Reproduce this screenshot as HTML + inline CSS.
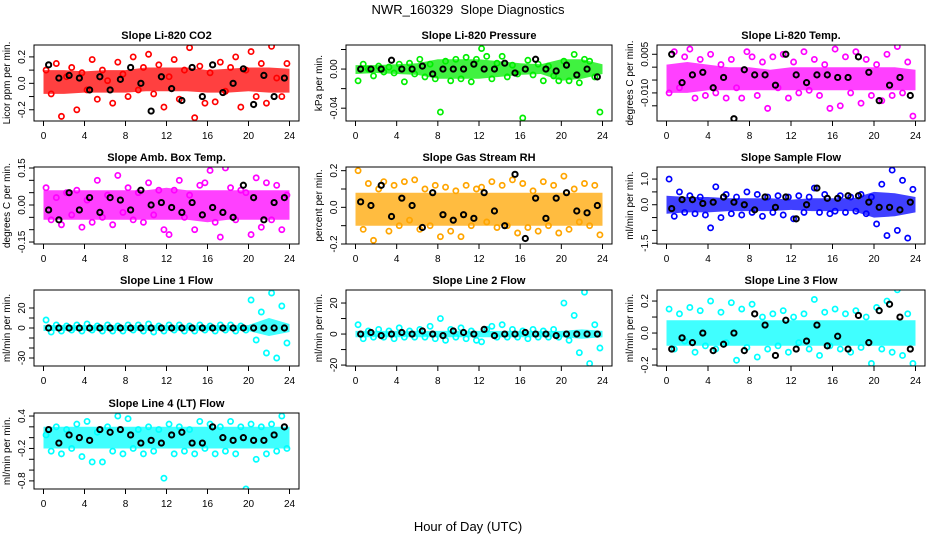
<!DOCTYPE html>
<html><head><meta charset="utf-8"><style>
html,body{margin:0;padding:0;background:#fff;}
svg{display:block;font-family:"Liberation Sans",sans-serif;}
</style></head><body>
<svg id="chart" width="936" height="540" viewBox="0 0 936 540">
<rect width="936" height="540" fill="#fff"/>
<text x="468" y="14" text-anchor="middle" font-size="13">NWR_160329&#160; Slope Diagnostics</text>
<text x="468" y="531" text-anchor="middle" font-size="13">Hour of Day (UTC)</text>
</svg>
<script>
// ---- data ----
const co2Vals=[0.1,-0.08,0.15,-0.25,0.05,0.12,-0.2,0.08,-0.05,0.18,-0.12,0.1,0.02,-0.15,0.16,0.07,-0.1,0.2,-0.05,0.12,0.22,-0.08,0.14,-0.18,0.05,0.18,-0.12,0.1,0.27,-0.26,0.13,-0.15,0.08,-0.14,0.16,-0.06,0.12,0.2,-0.18,0.1,0.24,-0.1,0.15,-0.15,0.28,0.04,-0.1,0.15];
const co2Ref=[0.14,0.04,0.06,0.04,-0.05,0.05,-0.05,0.03,0.12,0.0,-0.21,0.05,-0.04,-0.13,0.12,-0.1,0.14,-0.07,0.0,0.11,-0.16,0.06,-0.1,0.04];
const co2Lo=[-0.08,-0.08,-0.07,-0.07,-0.07,-0.06,-0.06,-0.06,-0.07,-0.07,-0.06,-0.07,-0.07];
const co2Hi=[0.1,0.1,0.09,0.1,0.1,0.12,0.12,0.12,0.1,0.11,0.12,0.12,0.11];

const presVals=[-0.012,0.005,0.0,-0.007,0.003,-0.003,0.002,-0.004,0.005,-0.013,0.006,-0.005,0.01,-0.008,0.005,-0.01,-0.044,0.008,-0.012,0.01,-0.01,0.012,-0.013,0.01,0.021,0.013,-0.01,0.006,0.013,-0.008,0.004,-0.005,-0.05,0.009,-0.006,0.005,-0.012,0.003,-0.007,-0.012,0.008,-0.012,0.015,-0.014,0.01,0.008,-0.008,-0.044];
const presRef=[0.0,0.0,0.0,0.009,0.0,0.0,0.003,-0.005,0.0,0.0,0.0,0.005,0.0,0.0,0.006,-0.004,0.0,0.01,0.0,-0.002,0.004,-0.006,0.0,-0.008];
const presLo=[-0.005,-0.004,-0.005,-0.006,-0.01,-0.01,-0.01,-0.008,-0.006,-0.005,-0.012,-0.01,-0.005];
const presHi=[0.004,0.004,0.005,0.006,0.01,0.01,0.01,0.008,0.006,0.005,0.01,0.01,0.005];

const tempVals=[-0.01,0.006,-0.008,0.004,0.007,-0.012,0.003,-0.011,0.005,-0.01,0.001,-0.012,0.003,-0.008,-0.012,0.006,0.004,-0.011,0.002,-0.016,0.004,-0.008,0.005,-0.012,0.002,-0.01,0.006,-0.009,0.003,-0.011,0.001,-0.016,0.007,-0.015,0.004,-0.01,0.006,-0.014,0.003,-0.011,0.001,-0.013,0.005,-0.011,0.008,-0.01,0.002,-0.019];
const tempRef=[0.005,-0.006,-0.003,-0.002,-0.008,-0.004,-0.02,-0.001,-0.003,-0.003,-0.007,0.005,-0.003,-0.006,-0.003,-0.003,-0.004,-0.004,0.004,-0.002,-0.013,-0.007,-0.004,-0.011];
const tempLo=[-0.01,-0.01,-0.009,-0.009,-0.009,-0.009,-0.009,-0.009,-0.009,-0.009,-0.009,-0.009,-0.009];
const tempHi=[0.001,0.002,0.001,0.0,0.0,-0.001,0.0,0.0,0.0,0.0,0.0,0.0,-0.001];

const ambVals=[0.07,-0.06,0.03,-0.08,0.05,-0.04,0.06,-0.09,0.02,-0.07,0.1,-0.05,0.04,-0.08,0.12,-0.03,0.07,-0.06,0.05,-0.07,0.09,-0.04,0.06,-0.1,-0.12,0.06,0.1,-0.05,0.04,-0.1,0.08,0.09,0.14,-0.07,-0.13,0.15,0.07,-0.06,0.06,0.05,-0.12,0.11,-0.09,0.09,-0.06,0.08,-0.1,0.04];
const ambRef=[-0.02,-0.06,0.05,-0.02,0.03,-0.03,0.03,0.02,-0.02,0.06,0.0,0.01,-0.01,-0.03,0.01,-0.04,-0.01,-0.03,-0.05,0.08,0.03,-0.06,0.01,0.03];
const ambLo=[-0.06,-0.06,-0.06,-0.06,-0.06,-0.06,-0.06,-0.06,-0.07,-0.06,-0.06,-0.06,-0.06];
const ambHi=[0.06,0.06,0.06,0.06,0.06,0.06,0.07,0.06,0.06,0.06,0.06,0.06,0.06];

const rhVals=[0.2,-0.12,0.13,-0.18,0.1,0.14,-0.13,0.12,-0.1,0.14,-0.07,0.15,-0.12,0.1,-0.1,0.12,-0.16,0.11,-0.13,0.09,-0.16,0.12,-0.1,0.1,0.11,-0.08,0.14,-0.11,0.12,-0.1,0.15,-0.14,0.13,-0.11,0.09,-0.13,0.14,-0.1,0.12,-0.14,0.17,-0.12,0.1,-0.08,0.13,-0.1,0.12,-0.15];
const rhRef=[0.03,0.01,0.12,-0.05,0.05,0.01,-0.11,0.08,-0.04,-0.07,-0.04,-0.06,0.08,-0.02,-0.1,0.18,-0.17,0.05,-0.06,0.05,0.08,-0.02,-0.03,0.01];
const rhLo=[-0.1,-0.1,-0.1,-0.1,-0.1,-0.1,-0.1,-0.1,-0.1,-0.1,-0.1,-0.1,-0.1];
const rhHi=[0.08,0.08,0.08,0.08,0.08,0.08,0.08,0.08,0.08,0.08,0.08,0.08,0.08];

const sfVals=[1.0,-0.45,0.5,-0.3,0.35,-0.35,0.3,-0.4,-0.9,0.7,-0.5,0.4,-0.35,0.3,-0.4,0.5,-0.3,0.4,-0.45,0.3,-0.3,0.35,-0.4,0.3,-0.55,0.35,-0.3,0.3,0.65,-0.3,0.4,-0.35,-0.25,0.35,-0.3,0.3,-0.25,0.4,-0.35,0.3,-0.75,0.8,-1.2,1.35,-1.0,0.95,-1.3,0.6];
const sfRef=[-0.15,0.2,0.2,0.05,0.1,0.3,0.1,0.0,-0.2,0.3,-0.1,0.3,-0.55,0.0,0.65,0.25,0.25,0.35,0.35,0.1,-0.1,-0.1,-0.2,0.1];
const sfLo=[-0.35,-0.3,-0.3,-0.25,-0.25,-0.25,-0.2,-0.25,-0.25,-0.25,-0.5,-0.45,-0.3];
const sfHi=[0.35,0.3,0.3,0.25,0.25,0.25,0.2,0.25,0.25,0.25,0.5,0.45,0.3];

const l1Vals=[8,-4,3,-3,2,-2,3,-3,4,-2,2,-3,3,-3,2,-3,3,-2,3,-3,4,-4,2,-3,3,-2,3,-3,2,-3,3,-2,2,-3,3,-2,3,-3,2,-2,28,-12,16,-25,35,-30,22,-15];
const l1Ref=[0,0,0,0,0,0,0,0,0,0,0,0,0,0,0,0,0,0,0,0,0,0,0,0];
const l1Lo=[-3,-3,-3,-3,-3,-3,-3,-3,-3,-3,-3,-8,-4];
const l1Hi=[3,3,3,3,3,3,3,3,3,3,3,10,4];

const l2Vals=[6,-3,2,-2,3,-2,2,-3,4,-2,2,-2,3,-2,5,-3,10,-4,3,-2,4,-3,2,-4,-5,3,5,-2,6,-2,3,-2,2,-3,3,-2,2,-2,3,-2,20,-4,12,-12,27,-19,6,-9];
const l2Ref=[0,1,-1,0,1,0,2,0,-1,2,1,0,3,-1,0,0,1,0,0,-1,0,0,0,0];
const l2Lo=[-2,-2,-2,-2,-2,-2,-2,-2,-2,-2,-2,-3,-2];
const l2Hi=[2,2,2,2,2,2,2,2,2,2,2,3,2];

const l3Vals=[0.15,-0.1,0.12,-0.05,0.16,-0.12,0.14,-0.08,0.2,-0.1,0.13,-0.06,0.19,-0.17,0.15,-0.09,0.18,-0.15,0.1,-0.1,0.12,-0.08,0.14,-0.12,0.1,-0.06,0.12,-0.1,0.21,-0.14,0.13,-0.08,0.15,-0.1,0.12,-0.12,0.14,-0.09,0.1,-0.19,0.16,-0.1,0.2,-0.12,0.27,-0.14,0.12,-0.19];
const l3Ref=[-0.1,-0.03,-0.06,0.0,-0.11,-0.07,0.0,-0.11,0.12,0.05,-0.14,0.08,-0.1,-0.05,0.05,-0.08,-0.02,-0.1,0.11,-0.06,0.14,0.18,0.1,-0.1];
const l3Lo=[-0.08,-0.08,-0.08,-0.08,-0.08,-0.08,-0.08,-0.08,-0.08,-0.08,-0.08,-0.08,-0.08];
const l3Hi=[0.08,0.08,0.08,0.08,0.08,0.08,0.08,0.08,0.08,0.08,0.08,0.08,0.08];

const l4Vals=[0.05,-0.25,0.2,-0.3,0.15,-0.2,0.25,-0.35,0.3,-0.45,0.1,-0.45,0.2,-0.25,0.4,-0.3,0.35,-0.2,0.15,-0.3,0.2,-0.25,0.15,-0.75,0.25,-0.3,0.2,-0.25,0.15,-0.3,0.3,-0.2,0.25,-0.3,0.2,-0.25,0.3,-0.3,0.2,-0.95,0.25,-0.4,0.2,-0.3,0.25,-0.25,0.4,-0.2];
const l4Ref=[0.15,-0.1,0.05,0.0,-0.05,0.15,0.1,0.15,0.05,-0.1,-0.05,-0.1,0.05,0.1,-0.1,-0.1,0.2,0.0,-0.05,0.0,-0.05,-0.05,0.05,0.2];
const l4Lo=[-0.2,-0.2,-0.2,-0.2,-0.2,-0.2,-0.2,-0.2,-0.2,-0.2,-0.2,-0.2,-0.2];
const l4Hi=[0.2,0.2,0.2,0.2,0.2,0.2,0.2,0.2,0.2,0.2,0.2,0.2,0.2];

const xTicks=[0,4,8,12,16,20,24];
const xTickLabels=["0","4","8","12","16","20","24"];

const co2YTicks=[-0.2,-0.1,0,0.1,0.2]; const co2YLabels=["-0.2","","0.0","","0.2"];
const presYTicks=[-0.04,-0.02,0,0.02]; const presYLabels=["-0.04","","0.00",""];
const tempYTicks=[0.005,0,-0.005,-0.01,-0.015]; const tempYLabels=["0.005","","","-0.010",""];
const ambYTicks=[0.15,0.1,0.05,0,-0.05,-0.1,-0.15]; const ambYLabels=["0.15","","","0.00","","","-0.15"];
const rhYTicks=[0.2,0.1,0,-0.1,-0.2]; const rhYLabels=["0.2","","0.0","","-0.2"];
const sfYTicks=[1,0.5,0,-0.5,-1,-1.5]; const sfYLabels=["1.0","","0.0","","","-1.5"];
const l1YTicks=[20,10,0,-10,-20,-30]; const l1YLabels=["20","","0","","","-30"];
const l2YTicks=[20,10,0,-10,-20]; const l2YLabels=["20","","0","","-20"];
const l3YTicks=[0.2,0.1,0,-0.1,-0.2]; const l3YLabels=["0.2","","0.0","","-0.2"];
const l4YTicks=[0.4,0.2,0,-0.2,-0.4,-0.6,-0.8]; const l4YLabels=["0.4","","","-0.2","","","-0.8"];

// ---- layout / style ----
const cols=[[34,299],[346,612],[657,925]];
const rows=[[45,121],[167,244],[290,366],[413,489]];
const panels=[
 {id:"co2",title:"Slope Li-820 CO2",ylab:"Licor ppm per min.",c:0,r:0,col:"#ff0000",vals:co2Vals,ref:co2Ref,lo:co2Lo,hi:co2Hi,yt:co2YTicks,yl:co2YLabels,ymin:-0.285,ymax:0.29},
 {id:"pressure",title:"Slope Li-820 Pressure",ylab:"kPa per min.",c:1,r:0,col:"#00ee00",vals:presVals,ref:presRef,lo:presLo,hi:presHi,yt:presYTicks,yl:presYLabels,ymin:-0.0531,ymax:0.0246},
 {id:"li820-temp",title:"Slope Li-820 Temp.",ylab:"degrees C per min.",c:2,r:0,col:"#ff00ff",vals:tempVals,ref:tempRef,lo:tempLo,hi:tempHi,yt:tempYTicks,yl:tempYLabels,ymin:-0.0209,ymax:0.0086},
 {id:"amb-box-temp",title:"Slope Amb. Box Temp.",ylab:"degrees C per min.",c:0,r:1,col:"#ff00ff",vals:ambVals,ref:ambRef,lo:ambLo,hi:ambHi,yt:ambYTicks,yl:ambYLabels,ymin:-0.158,ymax:0.154},
 {id:"gas-stream-rh",title:"Slope Gas Stream RH",ylab:"percent per min.",c:1,r:1,col:"#ffa500",vals:rhVals,ref:rhRef,lo:rhLo,hi:rhHi,yt:rhYTicks,yl:rhYLabels,ymin:-0.2,ymax:0.22},
 {id:"sample-flow",title:"Slope Sample Flow",ylab:"ml/min per min.",c:2,r:1,col:"#0000ff",vals:sfVals,ref:sfRef,lo:sfLo,hi:sfHi,yt:sfYTicks,yl:sfYLabels,ymin:-1.53,ymax:1.47},
 {id:"line1-flow",title:"Slope Line 1 Flow",ylab:"ml/min per min.",c:0,r:2,col:"#00ffff",vals:l1Vals,ref:l1Ref,lo:l1Lo,hi:l1Hi,yt:l1YTicks,yl:l1YLabels,ymin:-38,ymax:38},
 {id:"line2-flow",title:"Slope Line 2 Flow",ylab:"ml/min per min.",c:1,r:2,col:"#00ffff",vals:l2Vals,ref:l2Ref,lo:l2Lo,hi:l2Hi,yt:l2YTicks,yl:l2YLabels,ymin:-20.6,ymax:28.4},
 {id:"line3-flow",title:"Slope Line 3 Flow",ylab:"ml/min per min.",c:2,r:2,col:"#00ffff",vals:l3Vals,ref:l3Ref,lo:l3Lo,hi:l3Hi,yt:l3YTicks,yl:l3YLabels,ymin:-0.206,ymax:0.269},
 {id:"line4-flow",title:"Slope Line 4 (LT) Flow",ylab:"ml/min per min.",c:0,r:3,col:"#00ffff",vals:l4Vals,ref:l4Ref,lo:l4Lo,hi:l4Hi,yt:l4YTicks,yl:l4YLabels,ymin:-0.95,ymax:0.456}
];
const NS="http://www.w3.org/2000/svg";
const svg=document.getElementById('chart');
function mk(tag,attrs,parent){const e=document.createElementNS(NS,tag);for(const k in attrs)e.setAttribute(k,attrs[k]);(parent||svg).appendChild(e);return e;}

panels.forEach(p=>{
  const [L,R]=cols[p.c],[T,B]=rows[p.r];
  const g=mk('g',{});
  
  
  const xs=h=>L+9.5+(h/24)*(R-L-19);
  const ys=v=>B-(v-p.ymin)/(p.ymax-p.ymin)*(B-T);
  const cp=mk('clipPath',{id:'clip-'+p.id},g);
  mk('rect',{x:L,y:T,width:R-L,height:B-T},cp);
  const plot=mk('g',{'clip-path':'url(#clip-'+p.id+')'},g);
  let d='';
  p.hi.forEach((v,i)=>{d+=(i?'L':'M')+xs(i*2).toFixed(1)+','+ys(v).toFixed(1);});
  for(let i=p.lo.length-1;i>=0;i--)d+='L'+xs(i*2).toFixed(1)+','+ys(p.lo[i]).toFixed(1);
  const band=mk('path',{d:d+'Z',fill:p.col,opacity:0.75},plot);
  
  
  p.vals.forEach((v,i)=>{
    const c=mk('circle',{cx:xs(i*0.5+0.25),cy:ys(v),r:2.6,fill:'none',stroke:p.col,'stroke-width':1.7},plot);
    
    
  });
  p.ref.forEach((v,i)=>{
    const c=mk('circle',{cx:xs(i+0.5),cy:ys(v),r:2.6,fill:'none',stroke:'#000','stroke-width':2},plot);
    
    
  });
  const box=mk('rect',{x:L,y:T,width:R-L,height:B-T,fill:'none',stroke:'#000','stroke-width':1},g);
  
  
  const t=mk('text',{x:(L+R)/2,y:T-6,'text-anchor':'middle','font-size':11,'font-weight':'bold'},g);
  t.textContent=p.title;
  
  
  const xa=mk('g',{},g);
  
  
  mk('line',{x1:xs(0),x2:xs(24),y1:B,y2:B,stroke:'#000'},xa);
  xTicks.forEach((h,i)=>{
    mk('line',{x1:xs(h),x2:xs(h),y1:B,y2:B+5,stroke:'#000'},xa);
    const tl=mk('text',{x:xs(h),y:B+18,'text-anchor':'middle','font-size':10},xa);
    tl.textContent=xTickLabels[i];
    
    
  });
  const ya=mk('g',{},g);
  
  
  mk('line',{x1:L,x2:L,y1:ys(p.yt[0]),y2:ys(p.yt[p.yt.length-1]),stroke:'#000'},ya);
  p.yt.forEach((v,i)=>{
    const y=ys(v);
    mk('line',{x1:L-5,x2:L,y1:y,y2:y,stroke:'#000'},ya);
    if(p.yl[i]){
      const tl=mk('text',{x:L-9,y:y,'text-anchor':'middle','font-size':10,transform:'rotate(-90 '+(L-9)+' '+y+')'},ya);
      tl.textContent=p.yl[i];
      
      
    }
  });
  const yl=mk('text',{x:L-24,y:(T+B)/2,'text-anchor':'middle','font-size':10,transform:'rotate(-90 '+(L-24)+' '+(T+B)/2+')'},g);
  yl.textContent=p.ylab;
  
  
});
</script>
</body></html>
